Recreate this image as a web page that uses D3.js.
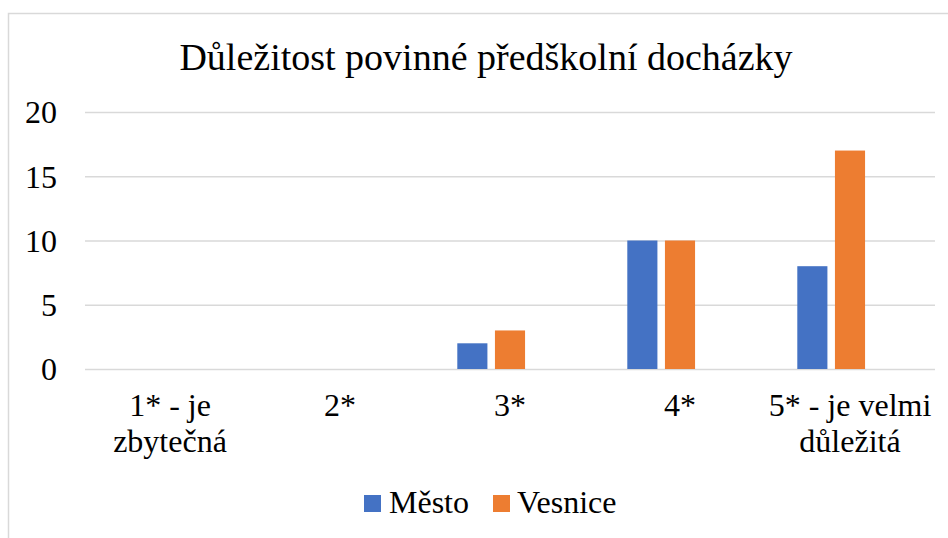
<!DOCTYPE html>
<html>
<head>
<meta charset="utf-8">
<script src="https://cdn.jsdelivr.net/npm/d3@7"></script>
<style>
  html, body { margin: 0; padding: 0; background: #fff; }
  svg { display: block; }
</style>
</head>
<body>
<svg id="chart" width="948" height="538"></svg>
<script>
const title = "Důležitost povinné předškolní docházky";
const categories = ["1* - je zbytečná", "2*", "3*", "4*", "5* - je velmi důležitá"];
const seriesNames = ["Město", "Vesnice"];
const mesto = [0, 0, 2, 10, 8];
const vesnice = [0, 0, 3, 10, 17];
const yTicks = [0, 5, 10, 15, 20];
const colors = ["#4472C4", "#ED7D31"];
// Excel reserves a third (empty) slot in each group
const slots = ["Město", "Vesnice", "_empty"];

const FONT = '"Liberation Serif"';
const svg = d3.select("#chart");
const W = 948, H = 538;
const plot = { left: 85, right: 935, top: 112, bottom: 369 };

// chart border (outer frame, cut by the picture edge)
svg.append("rect")
  .attr("x", 8.5).attr("y", 13.5)
  .attr("width", W + 20).attr("height", H + 20)
  .attr("fill", "none").attr("stroke", "#D9D9D9").attr("stroke-width", 1.5);

// title
svg.append("text")
  .attr("x", 486).attr("y", 70)
  .attr("text-anchor", "middle")
  .style("font-family", FONT)
  .style("font-size", "38px")
  .style("fill", "#000")
  .text(title);

const x0 = d3.scaleBand().domain(categories).range([plot.left, plot.right]).padding(0);
const x1 = d3.scaleBand().domain(slots)
  .range([x0.bandwidth() * 0.19, x0.bandwidth() * 0.81])
  .paddingInner(0.2).paddingOuter(0);
const y = d3.scaleLinear().domain([0, 20]).range([plot.bottom, plot.top]);

// gridlines + y labels
const yAxis = d3.axisLeft(y).tickValues(yTicks).tickSize(-(plot.right - plot.left)).tickPadding(28);
const gy = svg.append("g").attr("transform", `translate(${plot.left},0)`).call(yAxis);
gy.select(".domain").remove();
gy.selectAll(".tick line").attr("stroke", "#D9D9D9").attr("stroke-width", 1.5);
gy.selectAll(".tick text")
  .style("font-family", FONT)
  .style("font-size", "32px")
  .style("fill", "#000")
  .attr("dy", "0.34em");

// bars
const data = categories.map((c, i) => ({ cat: c, values: [mesto[i], vesnice[i]] }));
const groups = svg.append("g").selectAll("g").data(data).join("g")
  .attr("transform", d => `translate(${x0(d.cat)},0)`);
groups.selectAll("rect")
  .data(d => d.values.map((v, j) => ({ key: seriesNames[j], v, j })))
  .join("rect")
  .attr("x", d => x1(d.key))
  .attr("width", x1.bandwidth())
  .attr("y", d => y(d.v))
  .attr("height", d => y(0) - y(d.v))
  .attr("fill", d => colors[d.j]);

// x axis labels (wrapped)
const xAxis = d3.axisBottom(x0).tickSize(0).tickPadding(0);
const gx = svg.append("g").attr("transform", `translate(0,${plot.bottom})`).call(xAxis);
gx.select(".domain").remove();
gx.selectAll(".tick text")
  .style("font-family", FONT)
  .style("font-size", "32px")
  .style("fill", "#000")
  .attr("y", 47).attr("dy", 0)
  .each(function (d) {
    const t = d3.select(this);
    const words = d.split(" ");
    t.text(null);
    let line = [];
    let lineNo = 0;
    let tspan = t.append("tspan").attr("x", 0).attr("y", 47);
    words.forEach(w => {
      line.push(w);
      tspan.text(line.join(" "));
      if (tspan.node().getComputedTextLength() > x0.bandwidth() - 4 && line.length > 1) {
        line.pop();
        tspan.text(line.join(" "));
        line = [w];
        lineNo++;
        tspan = t.append("tspan").attr("x", 0).attr("y", 47 + lineNo * 36).text(w);
      }
    });
  });

// legend
const legendItems = [
  { name: seriesNames[0], color: colors[0], x: 364, tx: 389 },
  { name: seriesNames[1], color: colors[1], x: 493, tx: 517 }
];
const lg = svg.append("g");
legendItems.forEach(it => {
  lg.append("rect").attr("x", it.x).attr("y", 495).attr("width", 17).attr("height", 17).attr("fill", it.color);
  lg.append("text").attr("x", it.tx).attr("y", 513)
    .style("font-family", FONT).style("font-size", "32px").style("fill", "#000")
    .text(it.name);
});
</script>
</body>
</html>
